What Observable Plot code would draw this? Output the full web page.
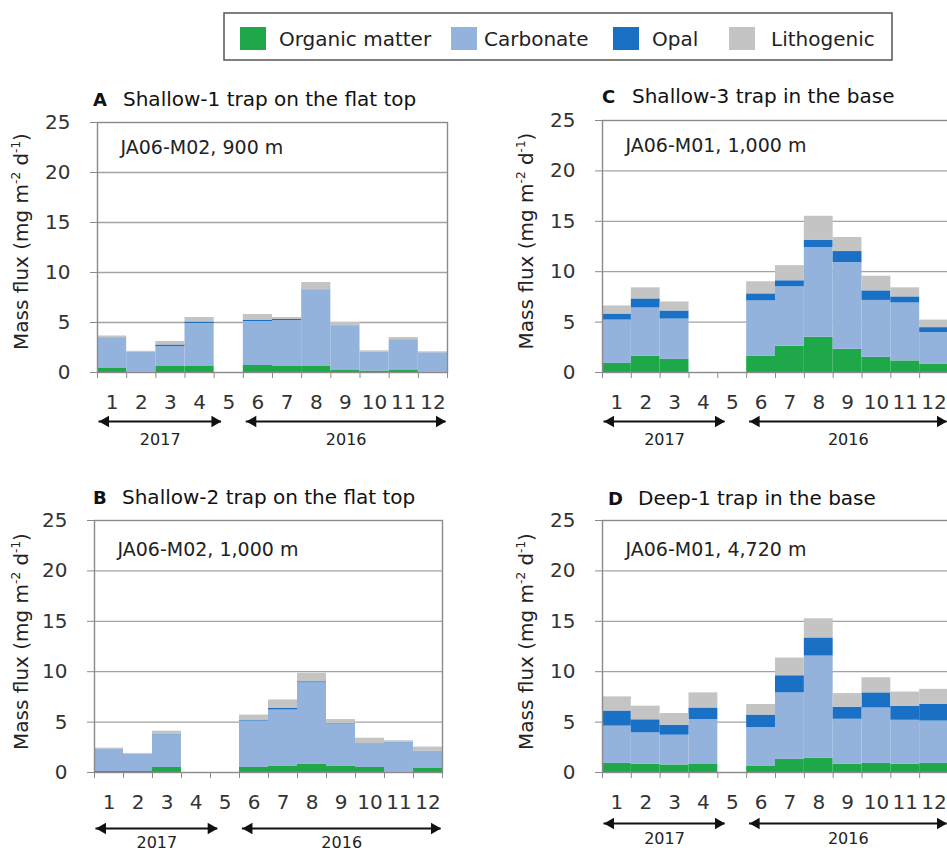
<!DOCTYPE html>
<html><head><meta charset="utf-8">
<script src="https://cdn.jsdelivr.net/npm/d3@7"></script>
<script src="https://cdn.jsdelivr.net/npm/@observablehq/plot@0.6"></script>
<style>
html,body{margin:0;padding:0;background:#fff;overflow:hidden;}
#wrap{position:relative;width:947px;height:851px;overflow:hidden;background:#fff;font-family:"DejaVu Sans",sans-serif;}
#wrap svg{position:absolute;}
</style></head><body><div id="wrap"></div>
<script>
// ---------- data ----------
const months = [1,2,3,4,5,6,7,8,9,10,11,12];
const series = ["Organic matter","Carbonate","Opal","Lithogenic"];
const seriesColors = ["#1fa84a","#93b3dc","#1a70c4","#c4c4c4"];
const yTicks = [0,5,10,15,20,25];
const years = ["2017","2016"];
const yearStart = [0.55, 5.6];   // month coordinates of the year arrows
const yearEnd = [4.75, 12.45];
const panelLetters = ["A","B","C","D"];
const panelTitles = ["Shallow-1 trap on the flat top","Shallow-2 trap on the flat top","Shallow-3 trap in the base","Deep-1 trap in the base"];
const trapLabels = ["JA06-M02, 900 m","JA06-M02, 1,000 m","JA06-M01, 1,000 m","JA06-M01, 4,720 m"];
const yLabelMain = "Mass flux (mg m", yLabelSup1 = "-2", yLabelMid = " d", yLabelSup2 = "-1", yLabelEnd = ")";

// A: Shallow-1 (JA06-M02, 900 m)
const organicA    = [0.4, 0.05, 0.6, 0.6, null, 0.7, 0.6, 0.6, 0.2, 0.15, 0.2, 0.05];
const carbonateA  = [3.0, 1.95, 2.0, 4.3, null, 4.4, 4.6, 7.6, 4.4, 1.85, 3.0, 1.9];
const opalA       = [0.05, 0.02, 0.15, 0.15, null, 0.1, 0.1, 0.05, 0.05, 0.02, 0.05, 0.02];
const lithogenicA = [0.2, 0.1, 0.35, 0.45, null, 0.6, 0.2, 0.75, 0.35, 0.15, 0.25, 0.1];
// B: Shallow-2 (JA06-M02, 1,000 m)
const organicB    = [0.1, 0.1, 0.5, null, null, 0.5, 0.6, 0.8, 0.6, 0.5, 0.05, 0.4];
const carbonateB  = [2.2, 1.7, 3.2, null, null, 4.6, 5.6, 8.1, 4.2, 2.3, 2.9, 1.7];
const opalB       = [0.02, 0.02, 0.05, null, null, 0.1, 0.15, 0.1, 0.05, 0.05, 0.05, 0.02];
const lithogenicB = [0.1, 0.07, 0.35, null, null, 0.5, 0.85, 0.85, 0.4, 0.55, 0.15, 0.4];
// C: Shallow-3 (JA06-M01, 1,000 m)
const organicC    = [0.9, 1.6, 1.3, null, null, 1.6, 2.6, 3.5, 2.3, 1.5, 1.15, 0.8];
const carbonateC  = [4.3, 4.8, 4.0, null, null, 5.5, 5.9, 8.9, 8.6, 5.65, 5.75, 3.15];
const opalC       = [0.6, 0.9, 0.8, null, null, 0.7, 0.6, 0.7, 1.1, 0.95, 0.6, 0.5];
const lithogenicC = [0.8, 1.1, 0.9, null, null, 1.2, 1.5, 2.4, 1.4, 1.45, 0.9, 0.75];
// D: Deep-1 (JA06-M01, 4,720 m)
const organicD    = [0.9, 0.83, 0.75, 0.85, null, 0.65, 1.3, 1.4, 0.83, 0.9, 0.83, 0.9];
const carbonateD  = [3.7, 3.1, 2.95, 4.4, null, 3.8, 6.6, 10.15, 4.45, 5.5, 4.35, 4.2];
const opalD       = [1.5, 1.3, 1.0, 1.15, null, 1.25, 1.7, 1.8, 1.2, 1.5, 1.4, 1.65];
const lithogenicD = [1.4, 1.35, 1.15, 1.5, null, 1.05, 1.75, 1.9, 1.35, 1.5, 1.4, 1.5];

const panelData = [
  [organicA, carbonateA, opalA, lithogenicA],
  [organicB, carbonateB, opalB, lithogenicB],
  [organicC, carbonateC, opalC, lithogenicC],
  [organicD, carbonateD, opalD, lithogenicD]
];

// ---------- layout (styles) ----------
const FONT = '"DejaVu Sans", sans-serif';
const layout = [
  {left:0,   top:80,  ml:97, mt:42, fw:350, fh:250, arrowDy:49, yearDy:67, labelDy:31, titleX:[93,123],  titleY:106, yLab:[28,241.5]},
  {left:0,   top:478, ml:94, mt:42, fw:348, fh:252, arrowDy:56, yearDy:70, labelDy:35, titleX:[93,122],  titleY:504, yLab:[28,641.5]},
  {left:505, top:80,  ml:97, mt:40, fw:346, fh:252, arrowDy:49, yearDy:67, labelDy:31, titleX:[602,632], titleY:103, yLab:[533,241]},
  {left:505, top:478, ml:97, mt:42, fw:346, fh:252, arrowDy:51, yearDy:66, labelDy:35, titleX:[608,638], titleY:505, yLab:[533,641.5]}
];
const wrap = document.getElementById("wrap");

function buildPanel(i) {
  const L = layout[i];
  const rows = [];
  panelData[i].forEach((vals, si) => vals.forEach((v, mi) => {
    if (v != null) rows.push({series: series[si], x1: months[mi] - 0.5, x2: months[mi] + 0.5, value: v});
  }));
  const yr = years.map((y, k) => ({year: y, x1: yearStart[k], x2: yearEnd[k], xm: (yearStart[k] + yearEnd[k]) / 2}));
  const bounds = months.map(m => m - 0.5).concat([months[months.length - 1] + 0.5]);
  const mr = 23, mb = 80;
  const svg = Plot.plot({
    width: L.ml + L.fw + mr,
    height: L.mt + L.fh + mb,
    marginLeft: L.ml, marginRight: mr, marginTop: L.mt, marginBottom: mb,
    x: {domain: [months[0] - 0.5, months[months.length - 1] + 0.5], axis: null},
    y: {domain: [yTicks[0], yTicks[yTicks.length - 1]], axis: null},
    color: {domain: series, range: seriesColors},
    style: {fontFamily: FONT, background: "transparent", overflow: "visible"},
    marks: [
      Plot.gridY({ticks: yTicks.slice(1, -1), stroke: "#a3a3a3", strokeOpacity: 1, strokeWidth: 1.3}),
      Plot.rectY(rows, {x1: "x1", x2: "x2", y: "value", fill: "series"}),
      Plot.frame({stroke: "#8a8a8a", strokeWidth: 1.4}),
      Plot.axisY({ticks: yTicks, tickSize: 7, tickPadding: 20, fontSize: 20, stroke: "#8a8a8a", fill: "#333", label: null, tickFormat: d => String(d)}),
      Plot.axisX({ticks: months, tickSize: 0, tickPadding: 22, fontSize: 20, fill: "#333", label: null, tickFormat: d => String(d)}),
      Plot.axisX({ticks: bounds, tickSize: 6, tickFormat: () => "", stroke: "#8a8a8a", label: null}),
      Plot.ruleY(yr, {y: () => 0, x1: "x1", x2: "x2", dy: L.arrowDy, stroke: "#111", strokeWidth: 1.8}),
      Plot.dot(yr, {x: "x1", y: () => 0, dy: L.arrowDy, dx: 6.7, symbol: "triangle", rotate: -90, r: 4.3, fill: "#111"}),
      Plot.dot(yr, {x: "x2", y: () => 0, dy: L.arrowDy, dx: -6.7, symbol: "triangle", rotate: 90, r: 4.3, fill: "#111"}),
      Plot.text(yr, {x: "xm", y: () => 0, dy: L.yearDy, text: "year", fontSize: 16, fill: "#222"}),
      Plot.text([trapLabels[i]], {frameAnchor: "top-left", dx: 23, dy: L.labelDy, lineAnchor: "bottom", textAnchor: "start", fontSize: 19, fill: "#222"})
    ]
  });
  svg.style.left = L.left + "px";
  svg.style.top = L.top + "px";
  wrap.appendChild(svg);
}
[0,1,2,3].forEach(buildPanel);

// ---------- overlay: legend, titles, y labels ----------
const ov = d3.select(wrap).append("svg")
  .attr("width", 947).attr("height", 851)
  .style("left", "0px").style("top", "0px")
  .style("font-family", FONT).style("pointer-events", "none");

ov.append("rect").attr("x", 224).attr("y", 13).attr("width", 668).attr("height", 47)
  .attr("fill", "#fff").attr("stroke", "#555").attr("stroke-width", 1.5);
const swX = [240, 451, 613, 729], txX = [279, 484, 652, 771];
series.forEach((s, i) => {
  ov.append("rect").attr("x", swX[i]).attr("y", 27).attr("width", 26).attr("height", 23).attr("fill", seriesColors[i]);
  ov.append("text").attr("x", txX[i]).attr("y", 46).attr("font-size", 20).attr("fill", "#222").text(s);
});

layout.forEach((L, i) => {
  ov.append("text").attr("x", L.titleX[0]).attr("y", L.titleY).attr("font-size", 18)
    .attr("font-weight", "bold").attr("fill", "#111").text(panelLetters[i]);
  ov.append("text").attr("x", L.titleX[1]).attr("y", L.titleY).attr("font-size", 20)
    .attr("fill", "#111").text(panelTitles[i]);
  const t = ov.append("text")
    .attr("transform", `translate(${L.yLab[0]},${L.yLab[1]}) rotate(-90)`)
    .attr("text-anchor", "middle").attr("font-size", 20).attr("fill", "#222");
  t.append("tspan").text(yLabelMain);
  t.append("tspan").attr("font-size", 12).attr("dy", -8).text(yLabelSup1);
  t.append("tspan").attr("dy", 8).text(yLabelMid);
  t.append("tspan").attr("font-size", 12).attr("dy", -8).text(yLabelSup2);
  t.append("tspan").attr("dy", 8).text(yLabelEnd);
});
</script>
</body></html>
